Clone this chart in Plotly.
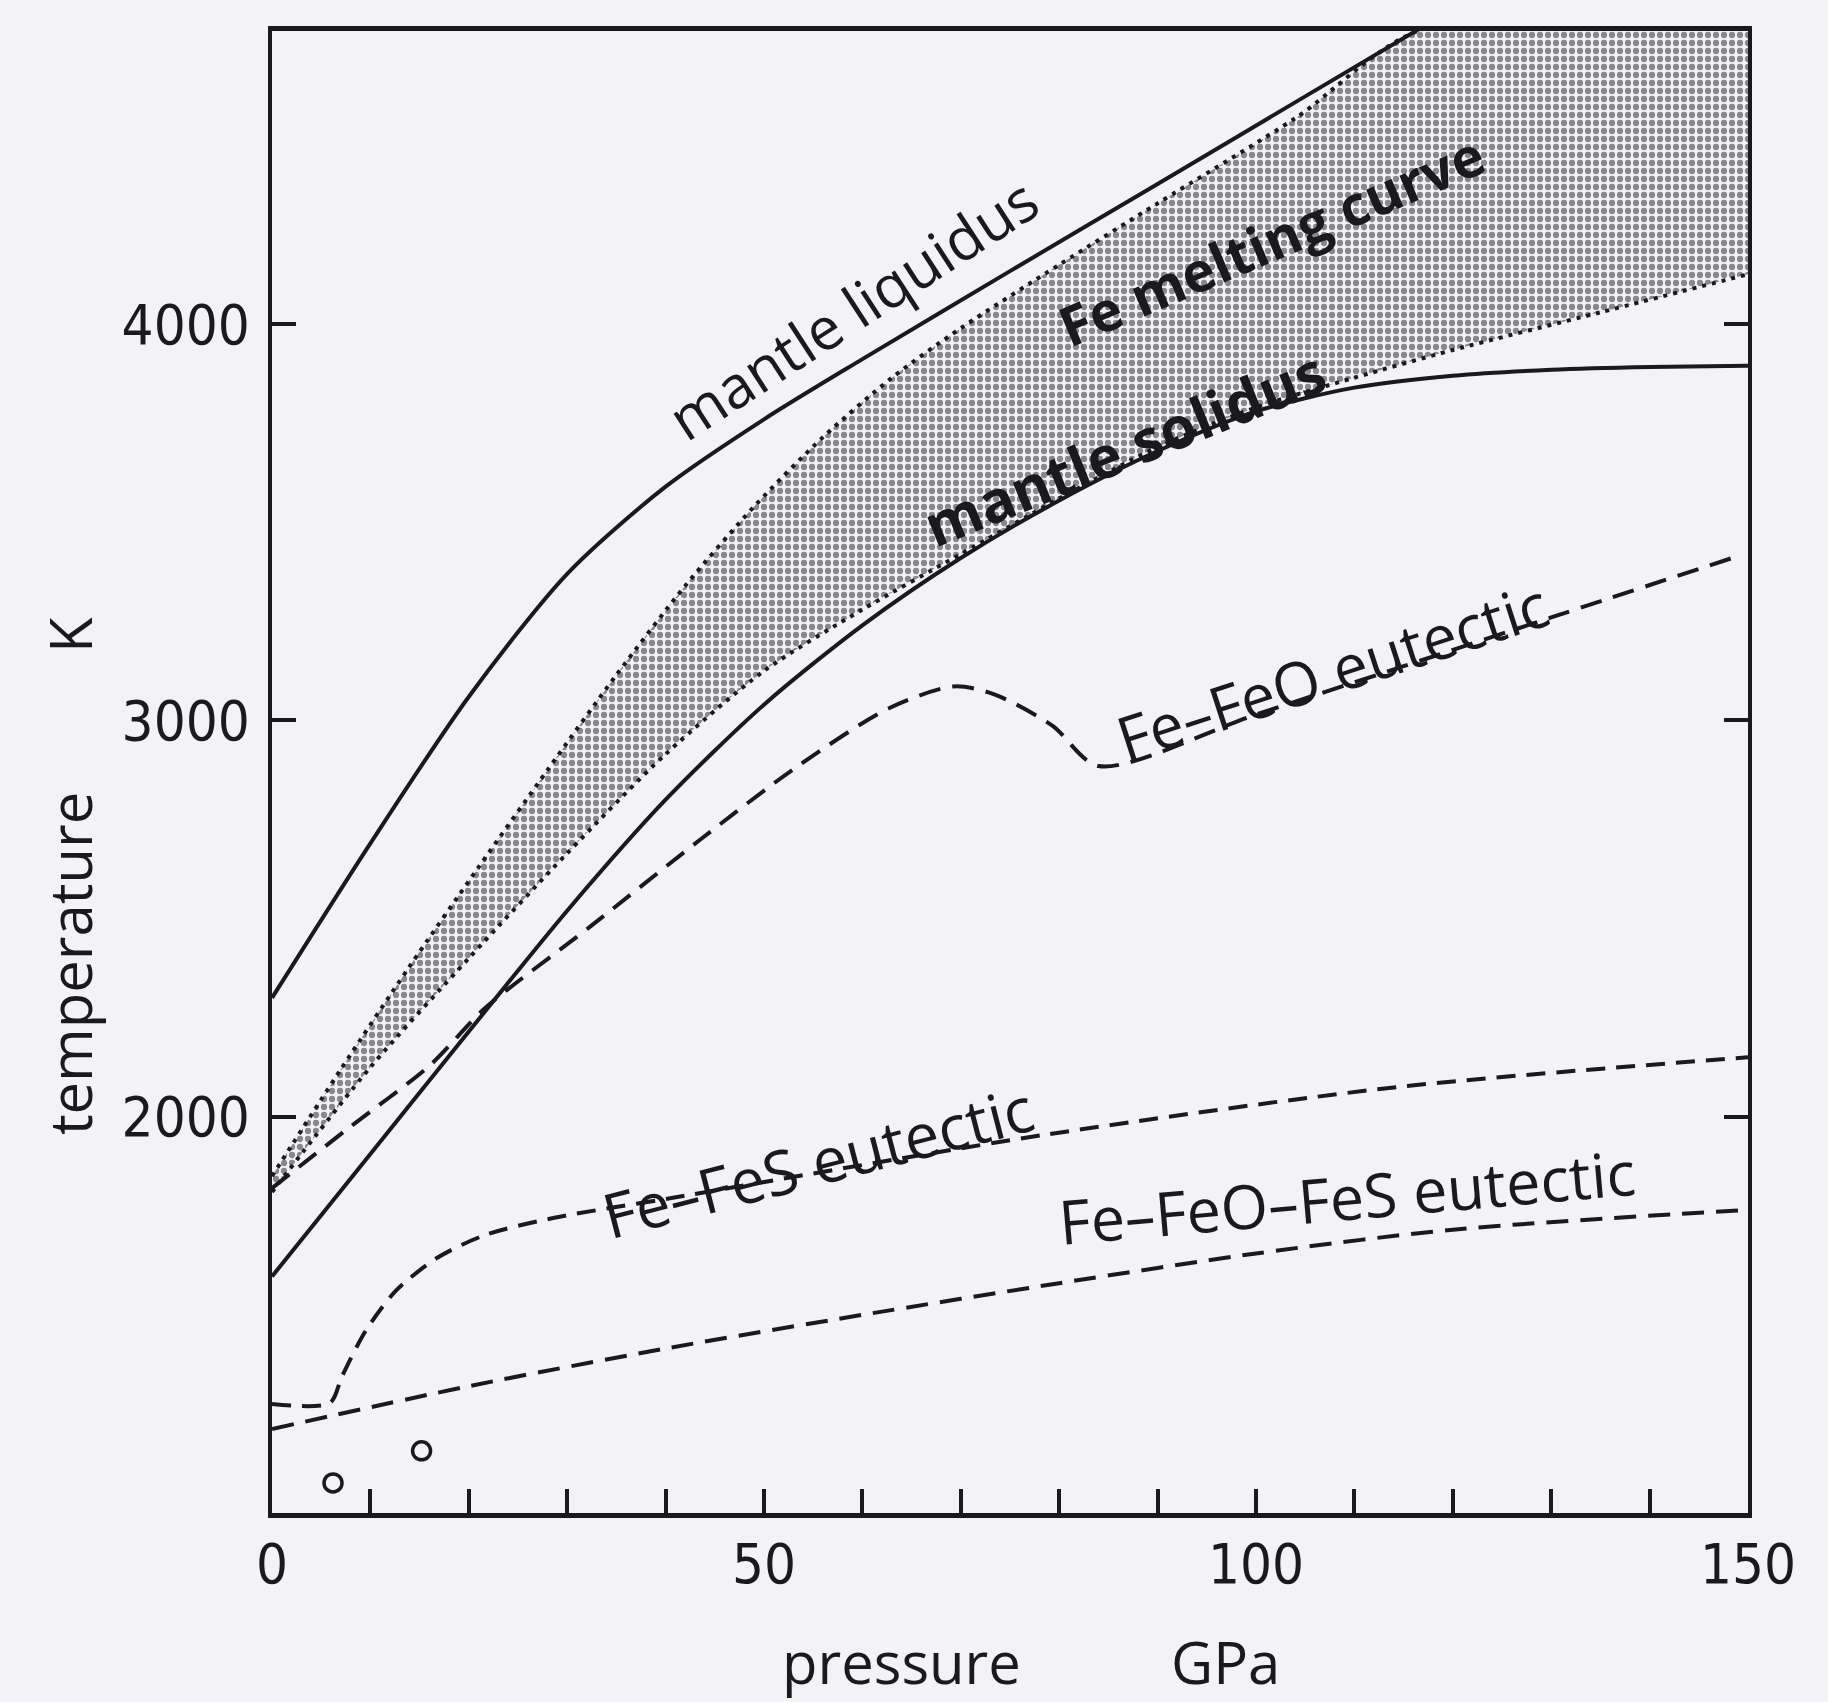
import plotly.graph_objects as go

# ---- curve readings: pressure in GPa, temperature in K ----
liquidus_p = [0, 10, 20, 30, 40, 50, 60, 75, 90, 105, 118]
liquidus_t = [2300, 2690, 3060, 3370, 3590, 3760, 3912, 4134, 4354, 4575, 4766]

solidus_p = [0, 10, 20, 30, 40, 50, 60, 70, 80, 90, 100, 110, 120, 130, 140, 150]
solidus_t = [1597, 1906, 2215, 2520, 2800, 3040, 3240, 3410, 3555, 3680, 3780, 3840, 3870, 3885, 3892, 3895]

# Fe melting curve: upper and lower bounds of the shaded band
fe_upper_p = [0, 7, 14, 21, 28, 35, 42, 49, 56, 63, 70, 80, 90, 104, 117]
fe_upper_t = [1850, 2120, 2380, 2630, 2875, 3115, 3340, 3540, 3715, 3865, 3990, 4150, 4305, 4520, 4745]
fe_lower_p = [0, 10, 20, 30, 40, 50, 60, 70, 80, 90, 100, 110, 120, 135, 150]
fe_lower_t = [1810, 2125, 2400, 2665, 2915, 3125, 3280, 3420, 3560, 3690, 3790, 3865, 3935, 4030, 4126]

feo_p = [0, 7.5, 16.1, 21.6, 32.3, 43.5, 53.1, 62.7, 69.3, 73.4, 79.3, 84, 100, 115, 130, 149]
feo_t = [1820, 1966, 2131, 2273, 2479, 2699, 2879, 3031, 3086, 3066, 2987, 2885, 3015, 3137, 3260, 3415]

fes_p = [0, 5.9, 7.1, 9.55, 12.6, 16.8, 21.6, 28.7, 40.6, 78.7, 114.4, 150]
fes_t = [1275, 1278, 1344, 1461, 1561, 1644, 1701, 1745, 1795, 1955, 2075, 2150]

feofes_p = [0, 20, 40, 60, 80, 100, 120, 150]
feofes_t = [1212, 1320, 1415, 1500, 1580, 1655, 1715, 1765]

points_p = [6.2, 15.2]
points_t = [1076, 1157]

# ---- axes ----
p_range = [0, 150]
t_range = [1000, 4740]
x_tick_vals = [0, 50, 100, 150]
x_tick_text = ["0", "50", "100", "150"]
y_tick_vals = [2000, 3000, 4000]
y_tick_text = ["2000", "3000", "4000"]

INK = "#1a1a1c"
PAPER = "#f3f2f5"
TEXT_FONT = "Open Sans"
TICK_FONT = "DejaVu Sans Condensed, Roboto"

fig = go.Figure()

# shaded Fe melting band (lower bound first, then upper bound filled to it)
edge = dict(color=INK, width=4, dash="4px,6px", shape="spline", smoothing=0.8)
fig.add_trace(go.Scatter(x=fe_lower_p, y=fe_lower_t, mode="lines", line=edge, hoverinfo="skip"))
band_top_p = fe_upper_p + [p_range[1]]
band_top_t = fe_upper_t + [fe_upper_t[-1]]
fig.add_trace(go.Scatter(
    x=band_top_p, y=band_top_t, mode="lines", line=edge,
    fill="tonexty", fillcolor="rgba(0,0,0,0)",
    fillpattern=dict(shape=".", size=8, solidity=0.48, fgcolor="#1e1e20", bgcolor="rgba(0,0,0,0)"),
    hoverinfo="skip",
))

solid = dict(color=INK, width=4, shape="spline", smoothing=0.8)
fig.add_trace(go.Scatter(x=liquidus_p, y=liquidus_t, mode="lines", line=solid))
fig.add_trace(go.Scatter(x=solidus_p, y=solidus_t, mode="lines", line=solid))

dashed = dict(color=INK, width=4, dash="22px,12px", shape="spline", smoothing=0.8)
fig.add_trace(go.Scatter(x=feo_p, y=feo_t, mode="lines", line=dashed))
fig.add_trace(go.Scatter(x=fes_p, y=fes_t, mode="lines", line=dict(dashed, dash="19px,11px")))
fig.add_trace(go.Scatter(x=feofes_p, y=feofes_t, mode="lines", line=dashed))

fig.add_trace(go.Scatter(
    x=points_p, y=points_t, mode="markers",
    marker=dict(symbol="circle-open", size=18, color=INK, line=dict(width=3.5, color=INK)),
))

# curve labels: text, pressure, temperature, angle, bold, size
labels = [
    ("mantle liquidus", 59.0, 4040, -33, False, 59),
    ("Fe melting curve", 101.5, 4215, -23, True, 55),
    ("mantle solidus", 86.6, 3690, -22, True, 58),
    ("Fe\u2013FeO eutectic", 107.8, 3125, -18, False, 61),
    ("Fe\u2013FeO\u2013FeS eutectic", 109.2, 1798, -5, False, 61),
    ("Fe\u2013FeS eutectic", 55.5, 1888, -14.5, False, 62),
]
for text, px, ty, ang, bold, size in labels:
    fig.add_annotation(
        x=px, y=ty, xref="x", yref="y", text=f"<b>{text}</b>" if bold else text,
        textangle=ang, showarrow=False, xanchor="center", yanchor="middle",
        font=dict(family=TEXT_FONT, size=size, color=INK),
    )

# axis titles
for text, xp, yp, ang in [
    ("temperature", -0.1375, 0.3704, -90),
    ("K", -0.1375, 0.5924, -90),
    ("pressure", 0.4262, -0.0999, 0),
    ("GPa", 0.6463, -0.0999, 0),
]:
    fig.add_annotation(
        x=xp, y=yp, xref="paper", yref="paper", text=text, textangle=ang,
        showarrow=False, xanchor="center", yanchor="middle",
        font=dict(family=TEXT_FONT, size=58, color=INK),
    )

fig.update_layout(
    width=1828, height=1702,
    margin=dict(l=272, r=80, t=31, b=189),
    paper_bgcolor=PAPER, plot_bgcolor=PAPER,
    showlegend=False,
)
fig.update_xaxes(
    range=p_range, tickvals=x_tick_vals, ticktext=x_tick_text,
    showgrid=False, zeroline=False,
    showline=True, linewidth=4.5, linecolor=INK, mirror=True,
    ticks="inside", ticklen=24, tickwidth=3.5, tickcolor=INK,
    minor=dict(dtick=10, ticks="inside", ticklen=24, tickwidth=3.5, tickcolor=INK),
    ticklabelstandoff=-2,
    tickfont=dict(family=TICK_FONT, size=56, color=INK),
)
fig.update_yaxes(
    range=t_range, tickvals=y_tick_vals, ticktext=y_tick_text,
    showgrid=False, zeroline=False,
    showline=True, linewidth=4, linecolor=INK, mirror="ticks",
    ticks="inside", ticklen=24, tickwidth=3.5, tickcolor=INK,
    ticklabelstandoff=7,
    tickfont=dict(family=TICK_FONT, size=56, color=INK),
)

fig.write_html("out.html")
